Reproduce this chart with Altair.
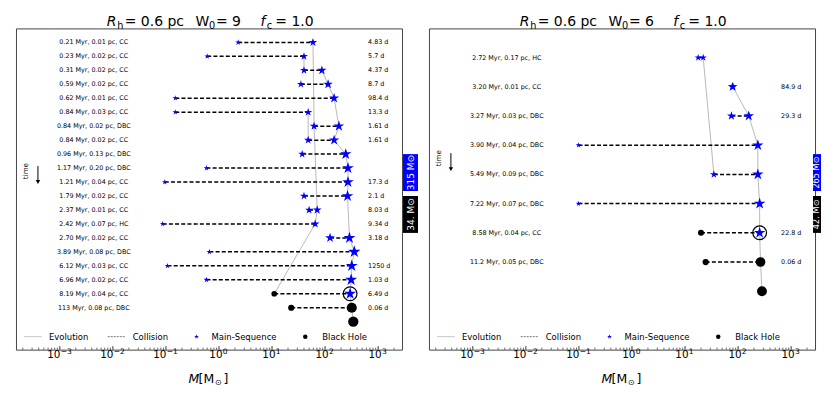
import altair as alt
import pandas as pd

FONT = "DejaVu Sans"
W, H = 387, 322
XMIN, XMAX = 1.49e-4, 2.82e3
STAR = ("M0,-1.25L0.281,-0.386L1.189,-0.386L0.454,0.147L0.735,1.011L0,0.478"
        "L-0.735,1.011L-0.454,0.147L-1.189,-0.386L-0.281,-0.386Z")

# ---------------- Left panel: W0 = 9 ----------------
L_title_w0 = "9"
L_info = ["0.21 Myr, 0.01 pc, CC", "0.23 Myr, 0.02 pc, CC", "0.31 Myr, 0.02 pc, CC",
          "0.59 Myr, 0.02 pc, CC", "0.62 Myr, 0.01 pc, CC", "0.84 Myr, 0.03 pc, CC",
          "0.84 Myr, 0.02 pc, DBC", "0.84 Myr, 0.02 pc, CC", "0.96 Myr, 0.13 pc, DBC",
          "1.17 Myr, 0.20 pc, DBC", "1.21 Myr, 0.04 pc, CC", "1.79 Myr, 0.02 pc, CC",
          "2.37 Myr, 0.01 pc, CC", "2.42 Myr, 0.07 pc, HC", "2.70 Myr, 0.02 pc, CC",
          "3.89 Myr, 0.08 pc, DBC", "6.12 Myr, 0.03 pc, CC", "6.96 Myr, 0.02 pc, CC",
          "8.19 Myr, 0.04 pc, CC", "113 Myr, 0.08 pc, DBC"]
L_period = ["4.83 d", "5.7 d", "4.37 d", "8.7 d", "98.4 d", "13.3 d", "1.61 d", "1.61 d", "", "",
            "17.3 d", "2.1 d", "8.03 d", "9.34 d", "3.18 d", "", "1250 d", "1.03 d", "6.49 d", "0.06 d"]
L_m1 = [2.3, 0.6, 40, 35, 0.15, 0.15, 62, 48, 37, 0.58, 0.095, 40, 50, 0.087, 124, 0.66, 0.107, 0.58, 11, 23]
L_k1 = ["MS"] * 18 + ["BH", "BH"]
L_m2 = [59, 40, 87, 114, 148, 48, 182, 148, 245, 270, 270, 265, 71, 65, 288, 355, 318, 310, 296, 318]
L_k2 = ["MS"] * 19 + ["BH"]
L_final_m = 340
L_final_k = "BH"
L_ring_row = 18
L_tracks = {
    "a": [(0, 59), (6, 62), (12, 71), (13, 65), (18, 11)],
    "b": [(1, 40), (2, 40)],
    "c": [(2, 87), (3, 114), (4, 148), (6, 182), (7, 148), (8, 245), (9, 270), (10, 270), (11, 265),
          (14, 288), (15, 355), (16, 318), (17, 310), (18, 296), (19, 318), (20, 340)],
    "d": [(5, 48), (7, 48)],
}
L_boxes = ["315 M⊙", "34. M⊙"]

# ---------------- Right panel: W0 = 6 ----------------
R_title_w0 = "6"
R_info = ["2.72 Myr, 0.17 pc, HC", "3.20 Myr, 0.01 pc, CC", "3.27 Myr, 0.03 pc, DBC",
          "3.90 Myr, 0.04 pc, DBC", "5.49 Myr, 0.09 pc, DBC", "7.22 Myr, 0.07 pc, DBC",
          "8.58 Myr, 0.04 pc, CC", "11.2 Myr, 0.05 pc, DBC"]
R_period = ["", "84.9 d", "29.3 d", "", "", "", "22.8 d", "0.06 d"]
R_m1 = [17.7, 78, 75, 0.098, 35, 0.098, 20, 24.5]
R_k1 = ["MS"] * 6 + ["BH", "BH"]
R_m2 = [22, 80, 159, 236, 236, 255, 255, 265]
R_k2 = ["MS"] * 7 + ["BH"]
R_final_m = 282
R_final_k = "BH"
R_ring_row = 6
R_tracks = {
    "a": [(0, 22), (4, 35)],
    "b": [(1, 80), (2, 159), (3, 236), (4, 236), (5, 255), (6, 255), (7, 265), (8, 282)],
}
R_boxes = ["265 M⊙", "42. M⊙"]

# ---------------- x axis ----------------
DECADES = [1e-3, 1e-2, 1e-1, 1e0, 1e1, 1e2, 1e3]
EXPONENTS = ["−3", "−2", "−1", "0", "1", "2", "3"]
MINOR = [k * 10.0 ** e for e in range(-4, 4) for k in range(2, 10) if XMIN <= k * 10.0 ** e <= XMAX]


def one(**cols):
    return alt.Chart(pd.DataFrame({k: [v] for k, v in cols.items()}))


def T(text, x, y, size, align="left", baseline="alphabetic", color="black", angle=None, style=None):
    kw = dict(align=align, baseline=baseline, fontSize=size, font=FONT, color=color)
    if angle is not None:
        kw["angle"] = angle
    if style:
        kw["fontStyle"] = style
    return one(t=text).mark_text(**kw).encode(x=alt.value(x), y=alt.value(y), text="t:N")


def panel(w0, info, period, m1, k1, m2, k2, final_m, final_k, ring_row, tracks, boxes, time_y, box_geom):
    n = len(info)
    xsc = alt.Scale(type="log", domain=[XMIN, XMAX], nice=False)
    ysc = alt.Scale(domain=[-1, n + 2], reverse=True, nice=False, zero=False)
    X = lambda f: alt.X(f, scale=xsc, axis=None)
    Y = alt.Y("row:Q", scale=ysc, axis=None)

    rows = pd.DataFrame({"row": list(range(n)), "m1": m1, "m2": m2, "info": info, "period": period})
    pts = pd.DataFrame({
        "row": list(range(n)) + list(range(n)) + [n],
        "m": list(m1) + list(m2) + [final_m],
        "kind": list(k1) + list(k2) + [final_k],
    })
    tr = pd.DataFrame([{"track": k, "row": r, "m": m} for k, v in tracks.items() for r, m in v])
    ring = pd.DataFrame({"row": [ring_row], "m": [m2[ring_row]]})
    ticks = pd.DataFrame({"v": DECADES, "e": EXPONENTS, "neg": [e.startswith("−") for e in EXPONENTS]})

    major = alt.Chart(ticks).mark_rule(color="black", strokeWidth=0.8).encode(
        x=X("v:Q"), y=alt.value(H), y2=alt.value(H - 3.5))
    minor = alt.Chart(pd.DataFrame({"v": MINOR})).mark_rule(color="black", strokeWidth=0.6).encode(
        x=X("v:Q"), y=alt.value(H), y2=alt.value(H - 2))
    tl = []
    for neg, dx in ((True, 0.5), (False, 3.5)):
        base = alt.Chart(ticks).transform_filter(alt.datum.neg == neg)
        tl.append(base.mark_text(align="right", baseline="alphabetic", fontSize=10.4, font=FONT,
                                 color="black", dx=dx).encode(x=X("v:Q"), y=alt.value(H + 8.8), text=alt.value("10")))
        tl.append(base.mark_text(align="left", baseline="alphabetic", fontSize=7.6, font=FONT,
                                 color="black", dx=dx + 0.3).encode(x=X("v:Q"), y=alt.value(H + 4.2), text="e:N"))

    evo = alt.Chart(tr).mark_line(color="#9a9a9a", strokeWidth=0.7).encode(
        x=X("m:Q"), y=Y, detail="track:N", order="row:Q")
    coll = alt.Chart(rows).mark_rule(color="black", strokeWidth=1.5, strokeDash=[4, 2.2]).encode(
        x=X("m1:Q"), x2="m2:Q", y=Y)
    points = alt.Chart(pts).mark_point(filled=True, opacity=1, strokeWidth=0).encode(
        x=X("m:Q"), y=Y,
        shape=alt.Shape("kind:N", scale=alt.Scale(domain=["MS", "BH"], range=[STAR, "circle"]), legend=None),
        color=alt.Color("kind:N", scale=alt.Scale(domain=["MS", "BH"], range=["#0000ff", "#000000"]), legend=None),
        size=alt.Size("m:Q", scale=alt.Scale(type="pow", exponent=0.6, domain=[0.08, 400], range=[22, 115]), legend=None))
    ringl = alt.Chart(ring).mark_point(shape="circle", filled=False, color="black", strokeWidth=1.2, size=190, opacity=1).encode(
        x=X("m:Q"), y=Y)
    lab = alt.Chart(rows).mark_text(align="center", baseline="middle", fontSize=6.4, font=FONT, color="black").encode(
        x=alt.value(78), y=Y, text="info:N")
    per = alt.Chart(rows).mark_text(align="left", baseline="middle", fontSize=6.4, font=FONT, color="black").encode(
        x=alt.value(353), y=Y, text="period:N")

    deco = []
    ty, sy = -2, 0.5
    deco += [T("R", 91, ty, 14, style="italic"), T("h", 101.5, sy, 9.8), T("= 0.6 pc", 109, ty, 14),
             T("W", 180, ty, 14), T("0", 193.5, sy, 9.8), T("= " + w0, 200.5, ty, 14),
             T("f", 245, ty, 14, style="italic"), T("c", 251.5, sy, 9.8), T("= 1.0", 260, ty, 14)]
    deco += [T("M", 173, 355, 12.5, style="italic"), T("[M", 183, 355, 12.5), T("⊙", 199.5, 357, 8), T("]", 208, 355, 12.5)]
    deco += [T("time", 10, time_y, 7.2, align="center", baseline="middle", angle=270),
             one(a=0).mark_rule(color="black", strokeWidth=1).encode(
                 x=alt.value(22), x2=alt.value(22), y=alt.value(time_y - 5), y2=alt.value(time_y + 10)),
             one(a=0).mark_point(shape="triangle-down", filled=True, color="black", size=20, opacity=1).encode(
                 x=alt.value(22), y=alt.value(time_y + 11))]
    ly = 309
    deco += [one(a=0).mark_rule(color="#b0b0b0", strokeWidth=0.7).encode(
                 x=alt.value(8), x2=alt.value(26), y=alt.value(ly), y2=alt.value(ly)),
             T("Evolution", 33, ly, 8.5, baseline="middle"),
             one(a=0).mark_rule(color="#555555", strokeWidth=0.8, strokeDash=[2, 1]).encode(
                 x=alt.value(92), x2=alt.value(109), y=alt.value(ly), y2=alt.value(ly)),
             T("Collision", 117, ly, 8.5, baseline="middle"),
             one(a=0).mark_point(shape=STAR, filled=True, color="#0000ff", size=16, opacity=1).encode(
                 x=alt.value(181), y=alt.value(ly)),
             T("Main-Sequence", 196, ly, 8.5, baseline="middle"),
             one(a=0).mark_point(shape="circle", filled=True, color="black", size=20, opacity=1).encode(
                 x=alt.value(290), y=alt.value(ly)),
             T("Black Hole", 307, ly, 8.5, baseline="middle")]
    bx0, bx1, bfs = box_geom
    bxc = (bx0 + bx1) / 2
    deco += [one(a=0).mark_rect(color="#0000ff").encode(
                 x=alt.value(bx0), x2=alt.value(bx1), y=alt.value(126), y2=alt.value(163)),
             T(boxes[0], bxc, 144.5, bfs, align="center", baseline="middle", color="white", angle=270),
             one(a=0).mark_rect(color="black").encode(
                 x=alt.value(bx0), x2=alt.value(bx1), y=alt.value(168), y2=alt.value(205)),
             T(boxes[1], bxc, 186.5, bfs, align="center", baseline="middle", color="white", angle=270)]
    deco += [one(a=0).mark_rule(opacity=0).encode(
        x=alt.value(-7), x2=alt.value(-7), y=alt.value(-19), y2=alt.value(-19))]

    return alt.layer(major, minor, *tl, evo, coll, points, ringl, lab, per, *deco).properties(width=W, height=H)


left = panel(L_title_w0, L_info, L_period, L_m1, L_k1, L_m2, L_k2, L_final_m, L_final_k,
             L_ring_row, L_tracks, L_boxes, 143, (388, 403, 9))
right = panel(R_title_w0, R_info, R_period, R_m1, R_k1, R_m2, R_k2, R_final_m, R_final_k,
              R_ring_row, R_tracks, R_boxes, 130, (385, 393, 8.2))

chart = alt.hconcat(left, right, spacing=27, bounds="flush").properties(
    padding={"left": 0, "top": 0, "right": 0, "bottom": 0},
    background="white",
).configure_view(stroke="#444444", strokeWidth=1)

chart.save("out.html", embed_options={"renderer": "svg", "actions": False})
